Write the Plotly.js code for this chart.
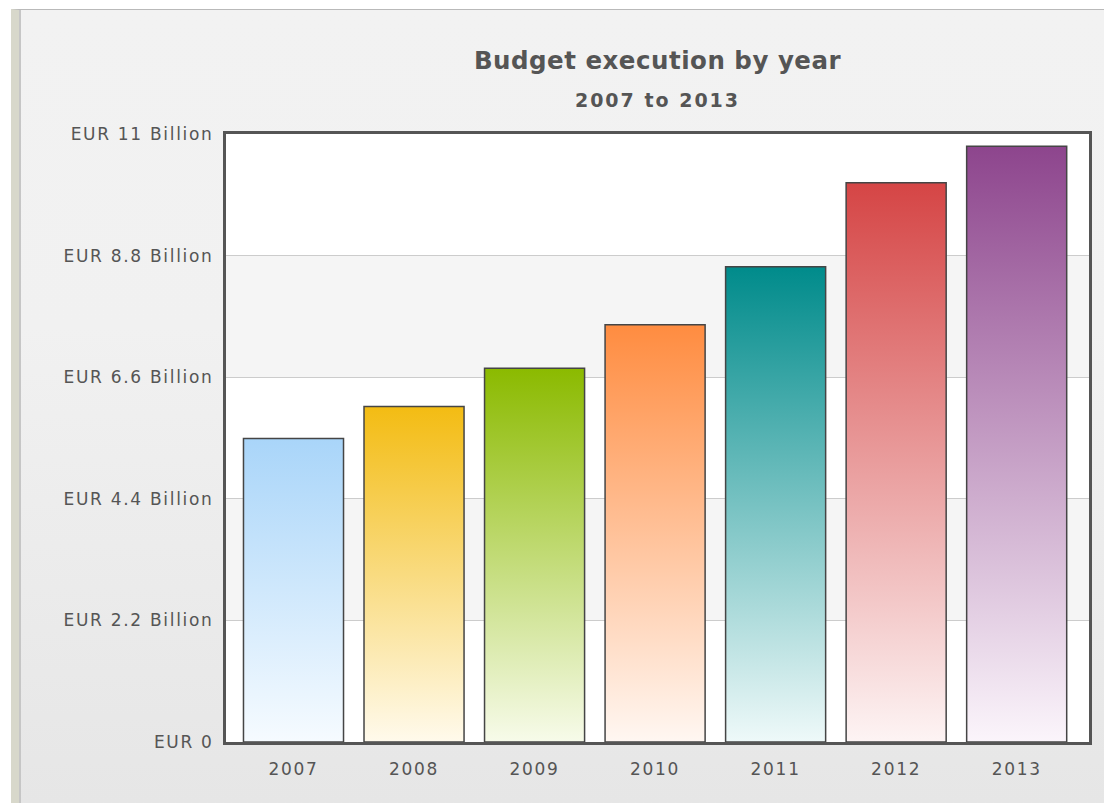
<!DOCTYPE html>
<html>
<head>
<meta charset="utf-8">
<script src="https://cdn.plot.ly/plotly-3.0.1.min.js"></script>
<style>
  html, body { margin: 0; padding: 0; background: #ffffff; width: 1104px; height: 803px; overflow: hidden; }
  #frame { position: absolute; left: 11px; top: 9px; width: 1093px; height: 794px;
           border-left: 8px solid #d8d8cb; border-top: 1px solid #b9b9b9; box-sizing: border-box;
           background: linear-gradient(#f2f2f2, #f1f1f1 40%, #e6e6e6); }
  #chart { position: absolute; left: 2px; top: 0; width: 1083px; height: 793px; }
  #frame::before { content: ""; position: absolute; left: 0; top: 0; bottom: 0; width: 2px; background: #c6c6c6; }
  .xtick text, .ytick text { letter-spacing: 1.7px; }
  .gtitle-subtitle { letter-spacing: 2px; transform: translateY(-5px); }
  .gtitle { letter-spacing: 0.5px; }
</style>
</head>
<body>
<div id="frame"><div id="chart"></div></div>
<script>
// ---- data ----
const years = ["2007", "2008", "2009", "2010", "2011", "2012", "2013"];
const budgetBillions = [5.49, 6.07, 6.76, 7.55, 8.60, 10.12, 10.78];
const barTopColors = ["#a9d5f9", "#f3bc13", "#8bba00", "#ff8c40", "#008b8b", "#d54545", "#8d458d"];
const barBottomColors = ["#f6fbff", "#fffaec", "#f7fbea", "#fff7f2", "#eef9f9", "#fdf4f4", "#fbf5fb"];
const yTickVals = [0, 2.2, 4.4, 6.6, 8.8, 11];
const yTickText = ["EUR 0", "EUR 2.2 Billion", "EUR 4.4 Billion", "EUR 6.6 Billion", "EUR 8.8 Billion", "EUR 11 Billion"];

const tickFont = { family: "DejaVu Sans, Verdana, sans-serif", size: 17, color: "#555555" };

// alternating bands between tick values
const bands = [];
for (let i = 0; i < yTickVals.length - 1; i++) {
  if (i % 2 === 1) {
    bands.push({ type: "rect", xref: "paper", yref: "y", x0: 0, x1: 1,
      y0: yTickVals[i], y1: yTickVals[i + 1], fillcolor: "#f5f5f5", line: { width: 0 }, layer: "below" });
  }
}

const trace = {
  type: "bar",
  x: years,
  y: budgetBillions,
  width: 0.83,
  marker: { color: barTopColors, line: { color: "#454545", width: 1.5 } },
  hoverinfo: "x+y"
};

const layout = {
  width: 1083, height: 793,
  margin: { l: 205, r: 15, t: 124, b: 61 },
  paper_bgcolor: "rgba(0,0,0,0)",
  plot_bgcolor: "#ffffff",
  showlegend: false,
  title: {
    text: "Budget execution by year",
    font: { family: "DejaVu Sans, Verdana, sans-serif", size: 24.5, color: "#555555", weight: "bold" },
    xref: "paper", x: 0.5, xanchor: "center",
    yref: "container", y: 0.937, yanchor: "middle",
    subtitle: { text: "2007 to 2013", font: { family: "DejaVu Sans, Verdana, sans-serif", size: 19, color: "#555555", weight: "bold" } }
  },
  xaxis: {
    type: "category",
    range: [-0.56, 6.6],
    showline: true, mirror: true, linecolor: "#555555", linewidth: 3,
    showgrid: false, ticks: "", tickfont: tickFont, ticklabelstandoff: 10,
    fixedrange: true
  },
  yaxis: {
    range: [0, 11],
    tickvals: yTickVals, ticktext: yTickText,
    showline: true, mirror: true, linecolor: "#555555", linewidth: 3,
    showgrid: true, gridcolor: "#cccccc", gridwidth: 1, zeroline: false,
    ticks: "", tickfont: tickFont, ticklabelstandoff: 6,
    fixedrange: true
  },
  shapes: bands
};

Plotly.newPlot("chart", [trace], layout, { displayModeBar: false, staticPlot: true }).then(function (gd) {
  const svg = gd.querySelector("svg.main-svg");
  const NS = "http://www.w3.org/2000/svg";
  let defs = svg.querySelector("defs");
  if (!defs) { defs = document.createElementNS(NS, "defs"); svg.insertBefore(defs, svg.firstChild); }
  barTopColors.forEach(function (c, i) {
    const g = document.createElementNS(NS, "linearGradient");
    g.setAttribute("id", "barGrad" + i);
    g.setAttribute("x1", "0"); g.setAttribute("y1", "0");
    g.setAttribute("x2", "0"); g.setAttribute("y2", "1");
    const s1 = document.createElementNS(NS, "stop");
    s1.setAttribute("offset", "0"); s1.setAttribute("stop-color", c);
    const s2 = document.createElementNS(NS, "stop");
    s2.setAttribute("offset", "1"); s2.setAttribute("stop-color", barBottomColors[i]);
    g.appendChild(s1); g.appendChild(s2);
    defs.appendChild(g);
  });
  gd.querySelectorAll(".barlayer .point path").forEach(function (p, i) {
    p.style.fill = "url(#barGrad" + i + ")";
  });
});
</script>
</body>
</html>
